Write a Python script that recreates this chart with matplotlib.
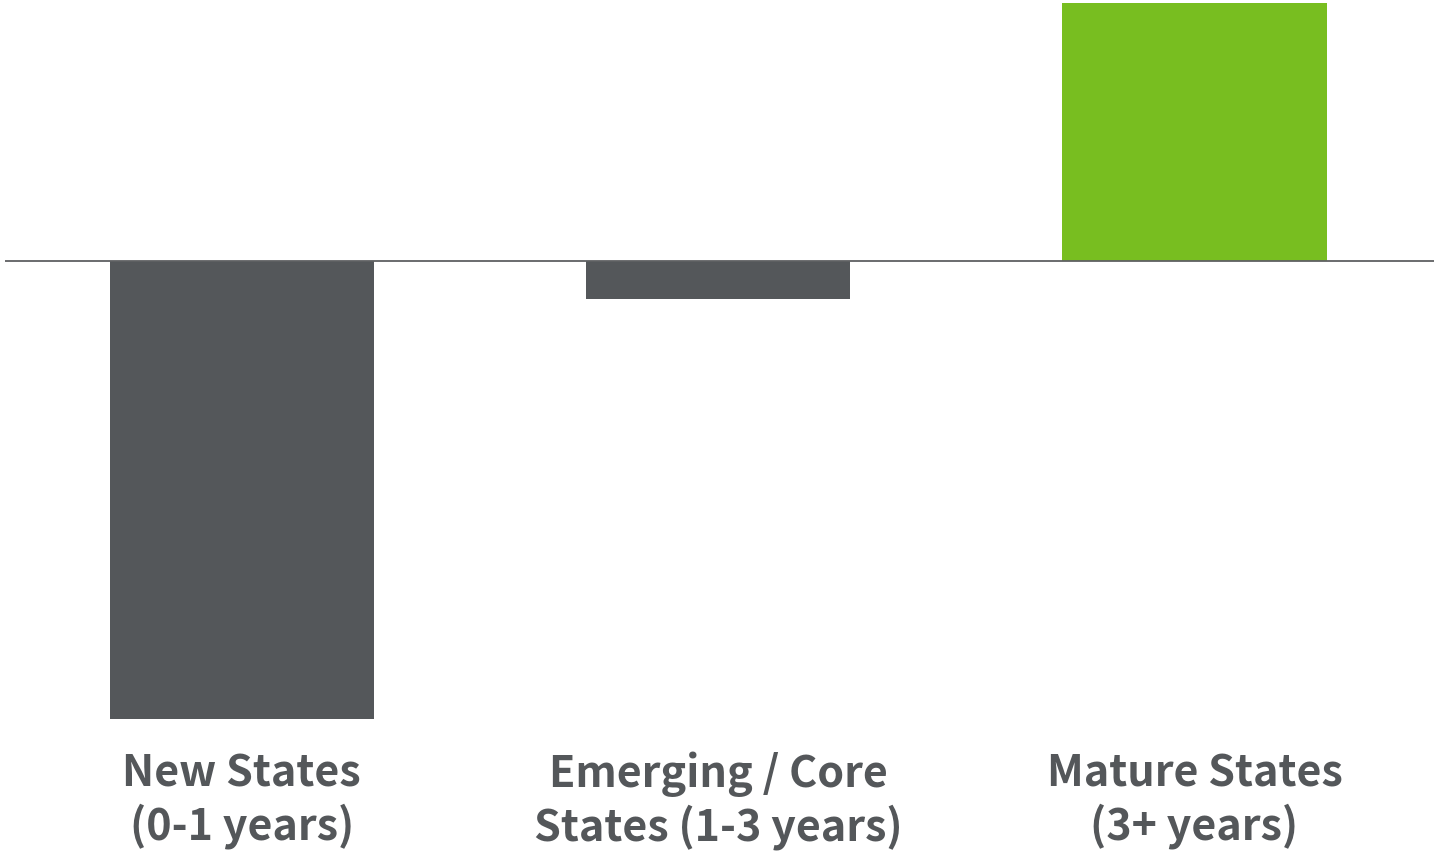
import matplotlib
matplotlib.use("Agg")
import matplotlib.pyplot as plt
import matplotlib.transforms as mtransforms

categories = ["New States\n(0-1 years)", "Emerging / Core\nStates (1-3 years)", "Mature States\n(3+ years)"]
values = [-17.75, -1.47, 10.0]
bar_colors = ["#54575a", "#54575a", "#78be20"]

W, H, DPI = 1434, 854, 100
fig = plt.figure(figsize=(W / DPI, H / DPI), dpi=DPI)
ax = fig.add_axes([5 / W, 1 - 721 / H, 1 - 5 / W, 720 / H])

x = list(range(len(categories)))
ax.bar(x, values, width=0.555, color=bar_colors, zorder=2)
ax.axhline(0, color="#5f6062", linewidth=1.3, zorder=3)

ax.set_xlim(-0.497, 2.503)
ax.set_ylim(-17.79, 10.116)
ax.axis("off")

trans = mtransforms.blended_transform_factory(ax.transData, fig.transFigure)
for xi, label in zip(x, categories):
    ax.text(xi, 1 - 752 / H, label, transform=trans, ha="center", va="top",
            fontsize=31, fontweight="bold", family=["Noto Sans CJK SC", "DejaVu Sans"],
            color="#54575a", linespacing=1.19)

fig.savefig("out.png", dpi=DPI, facecolor="white")
